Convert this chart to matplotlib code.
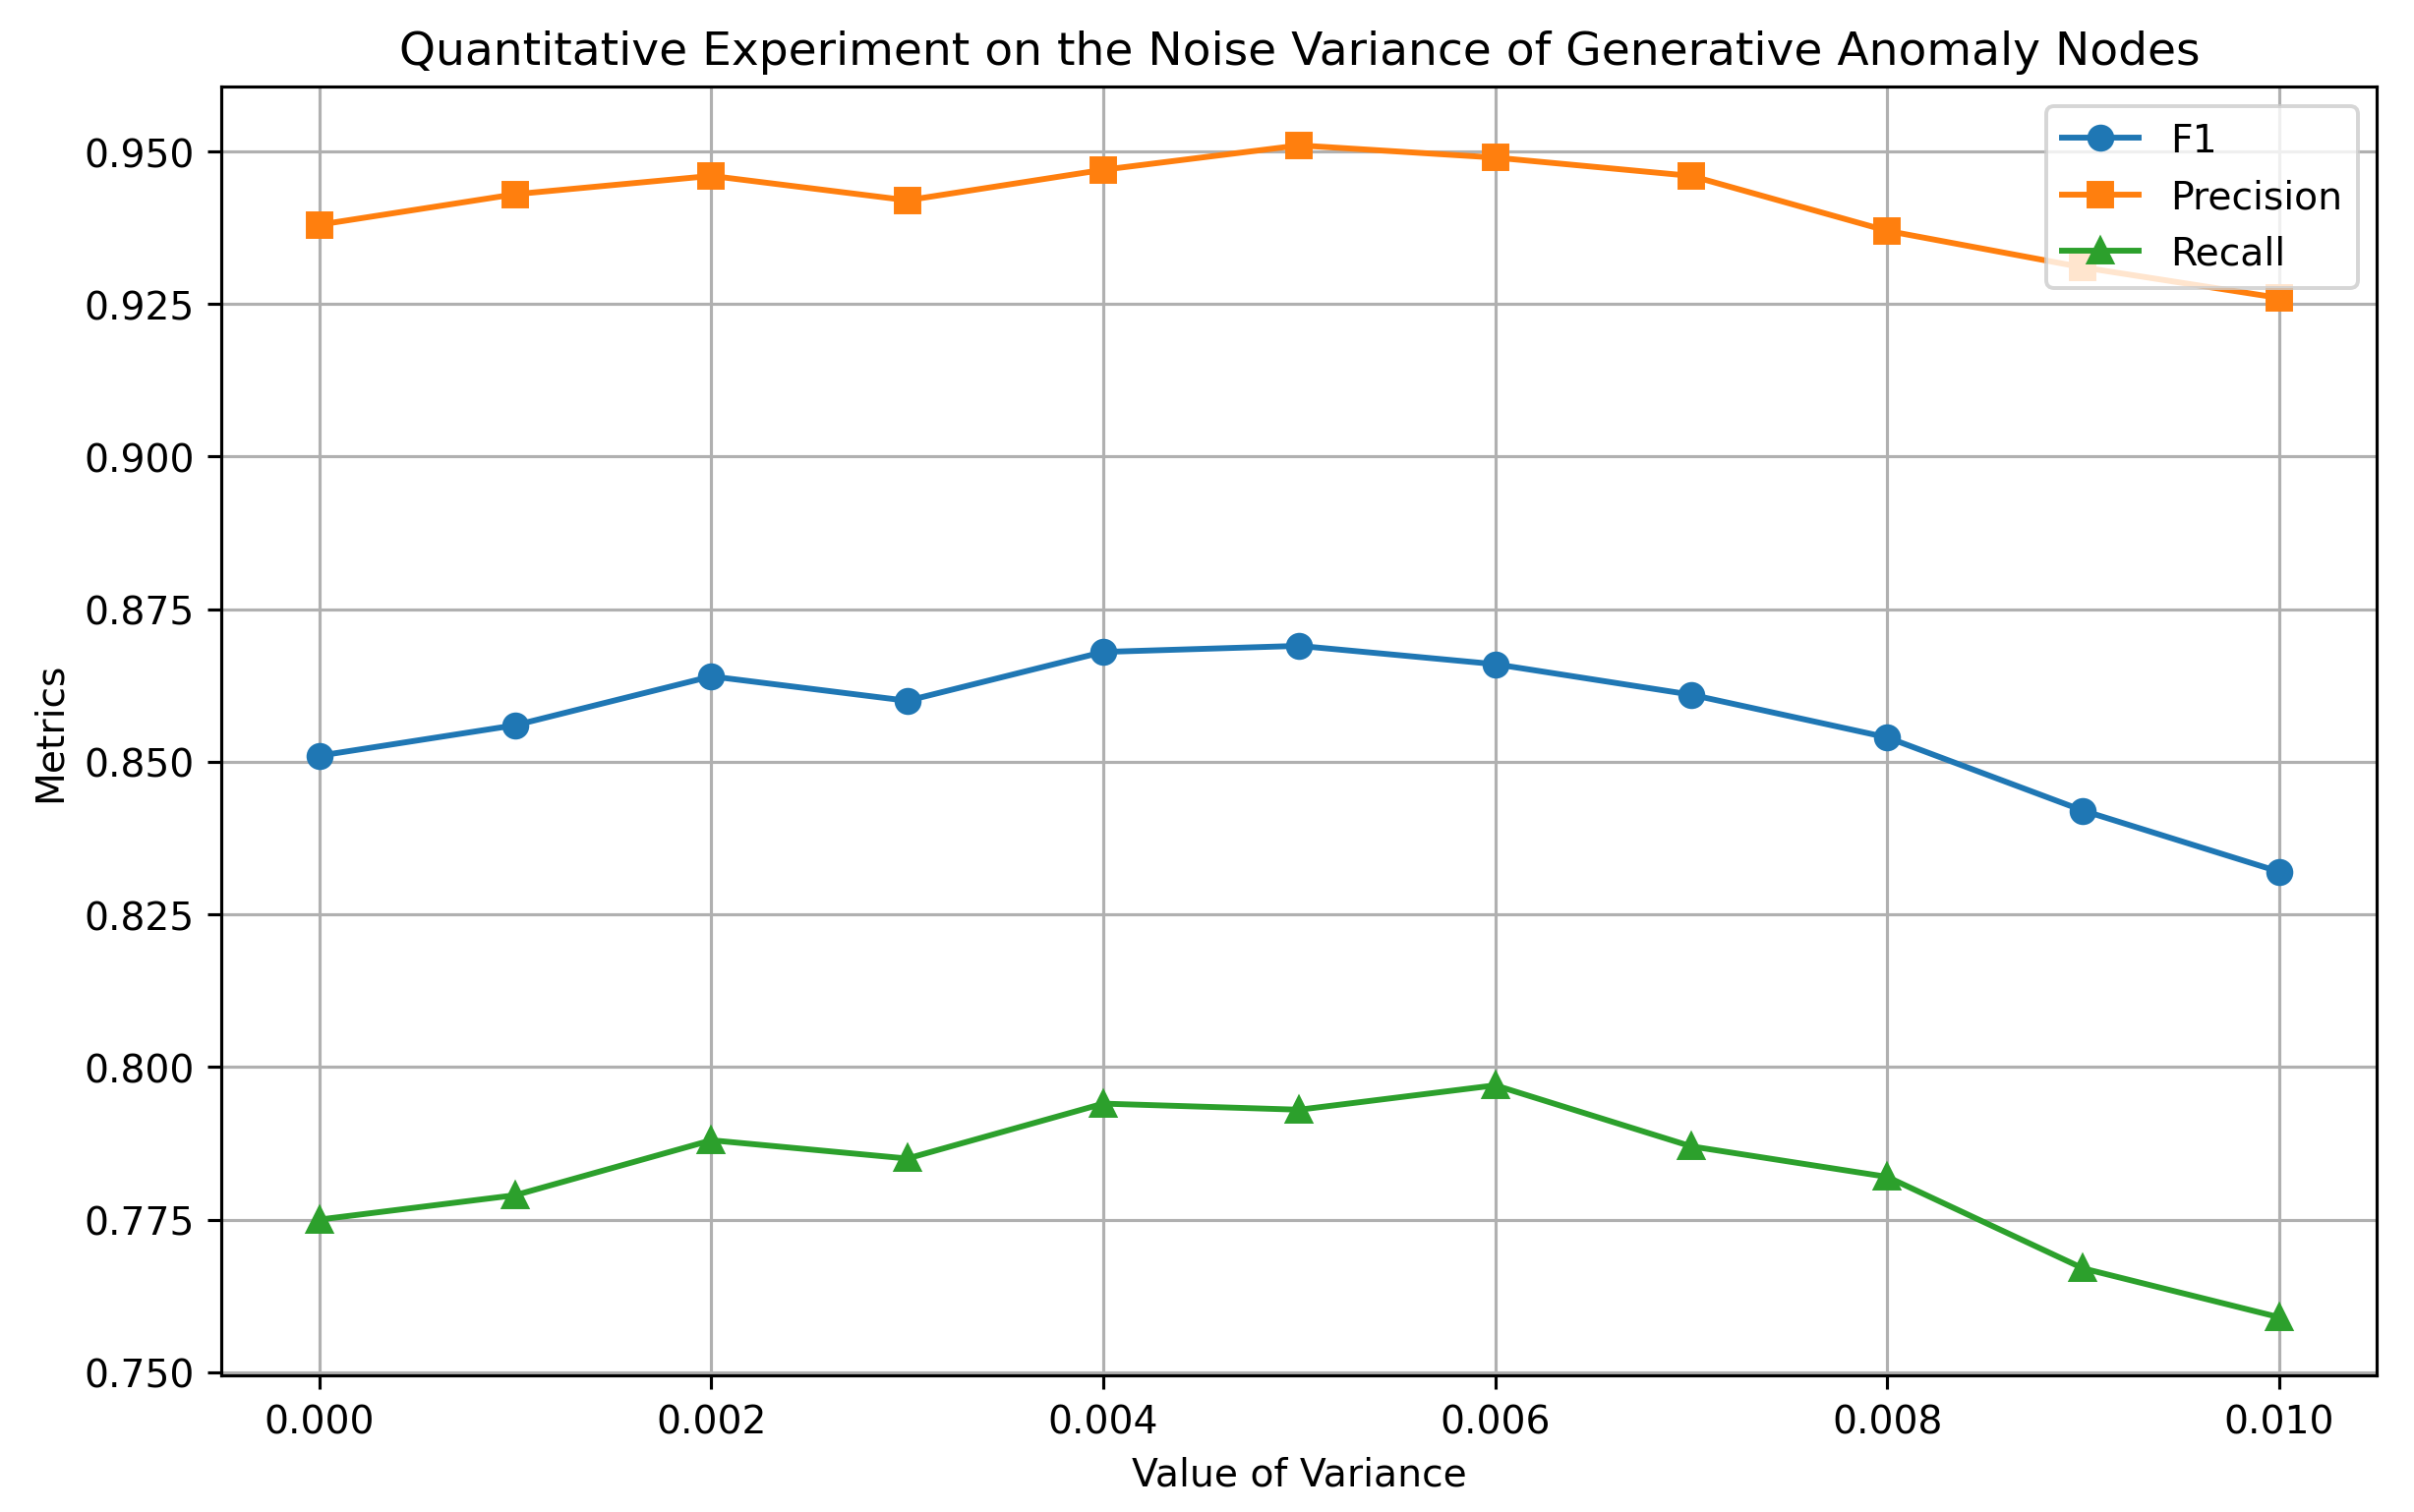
import numpy as np
import matplotlib
matplotlib.use('Agg')
import matplotlib.pyplot as plt

# Noise variance values (x axis)
variance = [0.000, 0.001, 0.002, 0.003, 0.004, 0.005, 0.006, 0.007, 0.008, 0.009, 0.010]

# Metrics
f1 = [0.851, 0.856, 0.864, 0.860, 0.868, 0.869, 0.866, 0.861, 0.854, 0.842, 0.832]
precision = [0.938, 0.943, 0.946, 0.942, 0.947, 0.951, 0.949, 0.946, 0.937, 0.931, 0.926]
recall = [0.775, 0.779, 0.788, 0.785, 0.794, 0.793, 0.797, 0.787, 0.782, 0.767, 0.759]

DPI = 283
fig = plt.figure(figsize=(2455 / DPI, 1539 / DPI), dpi=DPI)
ax = fig.add_axes([0.0917, 0.090, 0.893, 0.852])

ax.plot(variance, f1, marker='o', label='F1')
ax.plot(variance, precision, marker='s', label='Precision')
ax.plot(variance, recall, marker='^', label='Recall')

ax.set_title('Quantitative Experiment on the Noise Variance of Generative Anomaly Nodes')
ax.set_xlabel('Value of Variance')
ax.set_ylabel('Metrics')
ax.legend(loc='upper right')
ax.grid(True)

fig.savefig('out.png', dpi=DPI)
plt.close(fig)
